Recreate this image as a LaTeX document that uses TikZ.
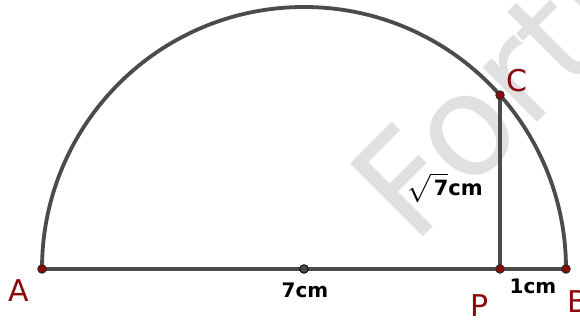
\documentclass[tikz,border=0pt]{standalone}
\usepackage{fix-cm}
\usepackage{amsmath}
\usepackage{fontspec}
\setmainfont{DejaVu Sans}
\definecolor{labred}{RGB}{140,10,10}
\definecolor{linegray}{RGB}{75,75,75}
\definecolor{wmgray}{RGB}{224,224,224}
\begin{document}
\begin{tikzpicture}[x=1pt,y=1pt,
  seg/.style={draw=linegray, line width=3.8pt},
  ptdot/.style={circle, fill=labred, draw=black!85, line width=0.9pt, inner sep=0pt, minimum size=8.5pt},
  ctrdot/.style={circle, fill=linegray, draw=black, line width=0.9pt, inner sep=0pt, minimum size=8.5pt},
  lab/.style={text=labred, font=\fontsize{30}{30}\selectfont, inner sep=0pt},
  meas/.style={font=\fontsize{20}{20}\selectfont\bfseries, inner sep=0pt},
  wm/.style={text=wmgray, font=\fontsize{141}{141}\selectfont, inner sep=0pt}]
\useasboundingbox (0,0) rectangle (580,320);
\clip (0,0) rectangle (580,320);
\fill[white] (0,0) rectangle (580,320);
% watermark
\node[wm, rotate=45, anchor=base west] (wmF) at (413,73) {Fortu};
% geometry
\coordinate (Apos) at (42,51);
\coordinate (Bpos) at (566,51);
\coordinate (Opos) at (304,51);
\coordinate (Ppos) at (500,51);
\coordinate (Cpos) at (500,224.9);
\draw[seg] (Bpos) arc[start angle=0, end angle=180, radius=262];
\draw[seg] (Apos) -- (Bpos);
\draw[seg] (Ppos) -- (Cpos);
\node[ptdot] (A) at (Apos) {};
\node[ptdot] (B) at (Bpos) {};
\node[ptdot] (P) at (Ppos) {};
\node[ptdot] (C) at (Cpos) {};
\node[ctrdot] (O) at (Opos) {};
% labels
\node[lab] (lA) at (19,29) {A};
\node[lab] (lB) at (578,18) {B};
\node[lab] (lC) at (517,239) {C};
\node[lab] (lP) at (480,14) {P};
\node[meas] (m7) at (305,30) {7cm};
\node[meas] (m1) at (533,34) {1cm};
\node[meas, font=\fontsize{21}{21}\selectfont\bfseries, anchor=base west] (ms) at (407,124)
  {\raisebox{0pt}{\scalebox{1.35}{$\surd$}}\rlap{\rule[21pt]{17pt}{1.1pt}}\kern3pt 7cm};
\end{tikzpicture}
\end{document}
